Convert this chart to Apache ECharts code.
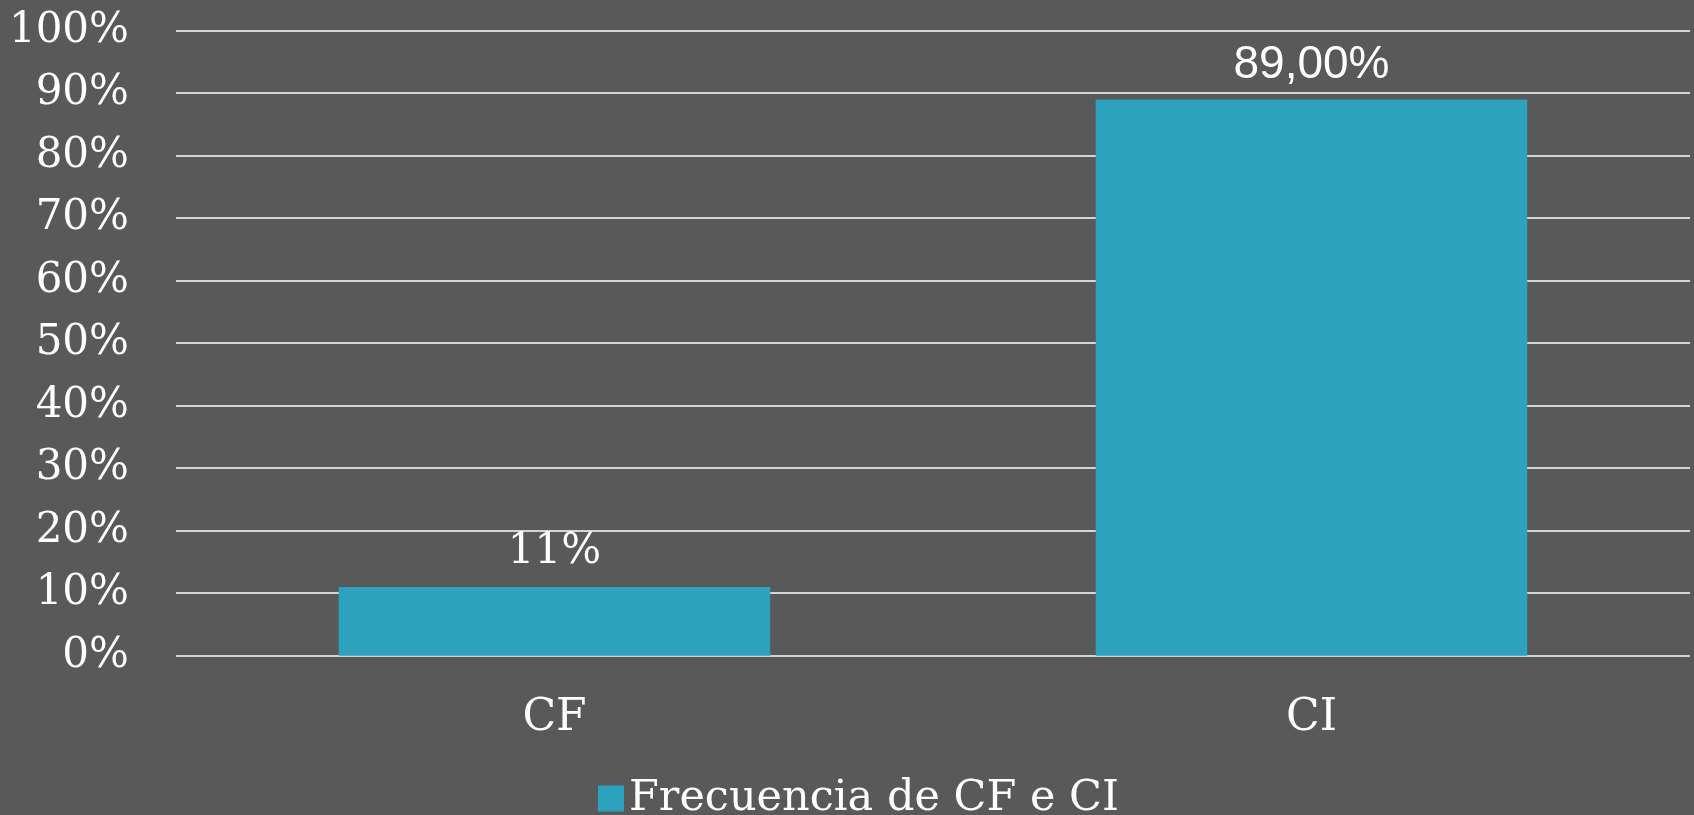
<!DOCTYPE html>
<html>
<head>
<meta charset="utf-8">
<script src="https://cdn.jsdelivr.net/npm/echarts@6/dist/echarts.min.js"></script>
<style>
html,body{margin:0;padding:0;background:#595959;}
#chart{width:1694px;height:815px;}
</style>
</head>
<body>
<div id="chart"></div>
<script>
const categories = ["CF", "CI"];
const values = [11, 89];
const valueLabels = ["11%", "89,00%"];
const seriesName = "Frecuencia de CF e CI";
const yTicks = { min: 0, max: 100, interval: 10 };

const serif = "DejaVu Serif";
const sans = "Liberation Sans";

const chart = echarts.init(document.getElementById('chart'));
chart.setOption({
  backgroundColor: '#595959',
  animation: false,
  grid: { left: 176, right: 4, top: 30.7, bottom: 159.3 },
  legend: {
    data: [seriesName],
    left: 593,
    top: 772,
    itemWidth: 26,
    itemHeight: 26,
    icon: 'rect',
    itemGap: 10,
    textStyle: { color: '#ffffff', fontFamily: serif, fontSize: 43 }
  },
  xAxis: {
    type: 'category',
    data: categories,
    axisLine: { show: false },
    axisTick: { show: false },
    axisLabel: { color: '#ffffff', fontFamily: serif, fontSize: 44, margin: 41 }
  },
  yAxis: {
    type: 'value',
    min: yTicks.min,
    max: yTicks.max,
    interval: yTicks.interval,
    axisLine: { show: false },
    axisTick: { show: false },
    axisLabel: { color: '#ffffff', fontFamily: serif, fontSize: 42, margin: 47, formatter: '{value}%' },
    splitLine: { lineStyle: { color: '#d4d4d4', width: 2 } }
  },
  series: [{
    name: seriesName,
    type: 'bar',
    barWidth: '57%',
    itemStyle: { color: '#2ca2bf' },
    data: values.map((v, i) => ({
      value: v,
      label: {
        show: true,
        position: 'top',
        distance: i === 0 ? 14 : 11,
        color: '#ffffff',
        fontFamily: i === 0 ? serif : sans,
        fontSize: i === 0 ? 42 : 46,
        formatter: valueLabels[i]
      }
    }))
  }]
});
</script>
</body>
</html>
